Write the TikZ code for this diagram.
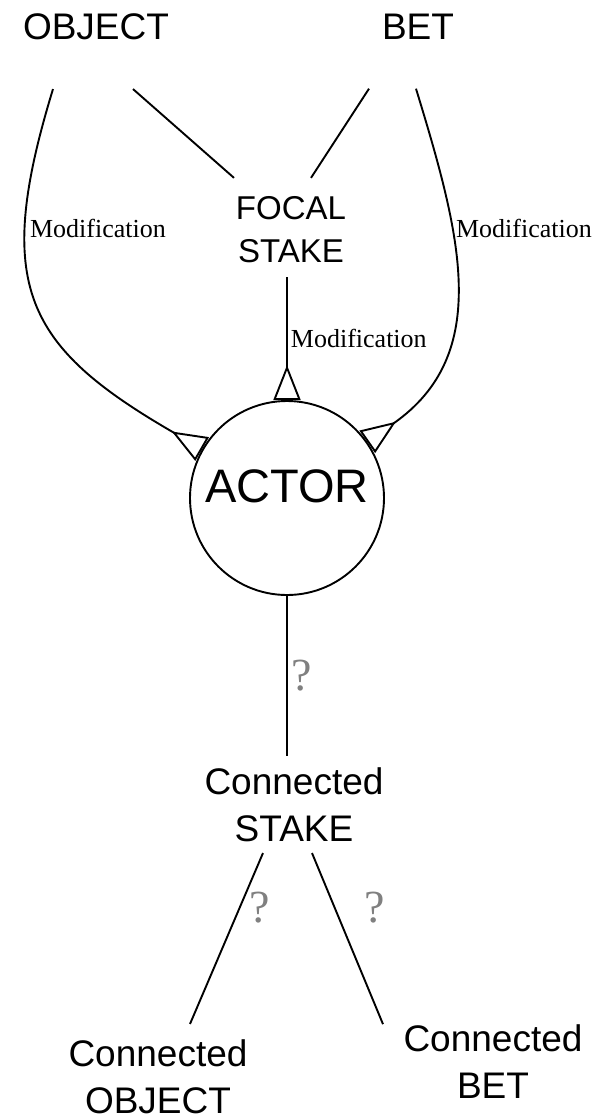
\documentclass[tikz,border=0pt]{standalone}
\usepackage{fontspec}
\setmainfont{Liberation Serif}
\setsansfont{Liberation Sans}
\usetikzlibrary{arrows.meta}

\begin{document}
\begin{tikzpicture}[
  x=1pt, y=1pt,
  line width=1.9pt,
  lbl/.style={font=\sffamily\fontsize{37}{47}\selectfont, align=center, inner sep=0pt},
  ball/.style={draw, circle, minimum size=194pt, inner sep=0pt, font=\sffamily\fontsize{47}{50}\selectfont},
  mod/.style={font=\fontsize{26}{30}\selectfont, inner sep=0pt},
  qm/.style={font=\fontsize{46}{50}\selectfont, text=gray, inner sep=0pt},
  modif/.style={-{Triangle[open, reversed, length=35pt, width=27pt]}}
]
\useasboundingbox (0,0) rectangle (594,-1120);
% top
\node[lbl] (obj) at (96,-27) {OBJECT};
\node[lbl] (bet) at (418,-27) {BET};
\node[lbl, font=\sffamily\fontsize{33}{43}\selectfont] (focal) at (291,-230) {FOCAL\\STAKE};
% actor
\node[ball] (actor) at (287,-498) {\raisebox{12pt}[\height][\depth]{ACTOR}};
% connected
\node[lbl] (cstake) at (294,-805) {Connected\\STAKE};
\node[lbl] (cobj) at (158,-1077) {Connected\\OBJECT};
\node[lbl] (cbet) at (493,-1062) {Connected\\BET};
% labels on the curves
\node[mod] (modl) at (98,-228) {Modification};
\node[mod] (modr) at (524,-228) {Modification};
% lines
\draw ([xshift=37pt,yshift=-48pt]obj.south) -- ([xshift=-57pt,yshift=18pt]focal.north);
\draw ([xshift=-49pt,yshift=-48pt]bet.south) -- ([xshift=20pt,yshift=18pt]focal.north);
\draw[modif] ([xshift=-43pt,yshift=-48pt]obj.south) to[out=-107, in=150, looseness=1.35] (actor.150);
\draw[modif] ([xshift=-2pt,yshift=-48pt]bet.south) to[out=-73, in=35, looseness=1.1] (actor.35);
\draw[modif] ([xshift=-4pt,yshift=-13pt]focal.south) -- (actor.north)
  node[mod, pos=0.5, anchor=west, xshift=3pt] (modm) {Modification};
\draw (actor.south) -- ([xshift=-7pt,yshift=11pt]cstake.north)
  node[qm, midway, right=4pt] (q1) {?};
\draw ([xshift=-31pt,yshift=-10pt]cstake.south) -- ([xshift=32pt,yshift=15pt]cobj.north)
  node[qm, pos=0.32, right=9pt] (q2) {?};
\draw ([xshift=18pt,yshift=-10pt]cstake.south) -- ([xshift=-110pt]cbet.north)
  node[qm, pos=0.32, right=29pt] (q3) {?};
\end{tikzpicture}
\end{document}
